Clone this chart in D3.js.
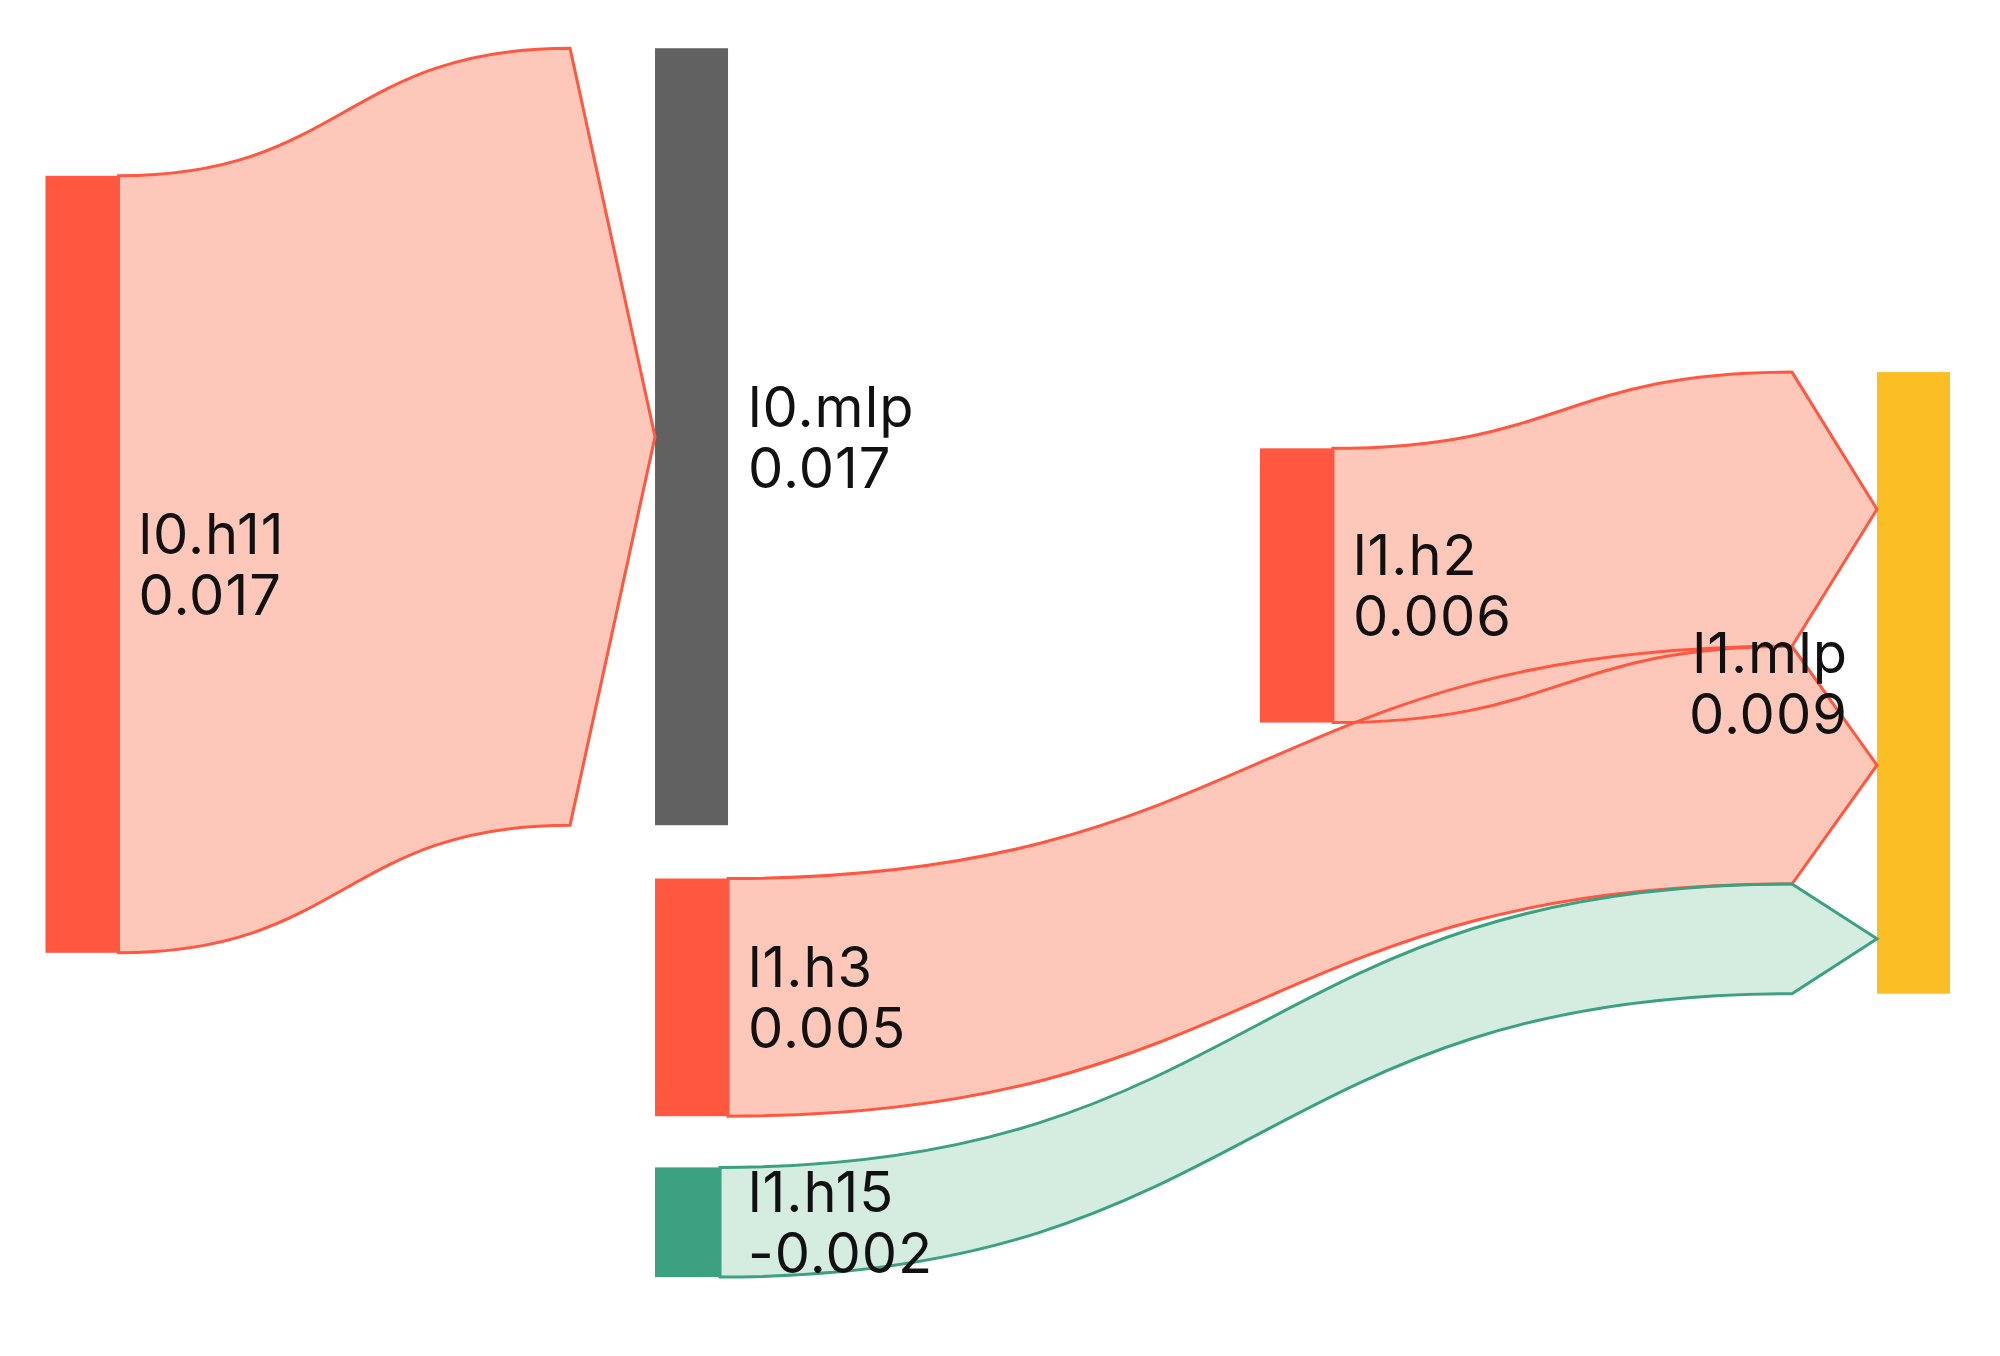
<!DOCTYPE html>
<html>
<head>
<meta charset="utf-8">
<script src="https://cdn.jsdelivr.net/npm/d3@7"></script>
<style>
  html, body { margin: 0; padding: 0; background: #ffffff; }
  svg { display: block; }
</style>
</head>
<body>
<svg id="chart" width="2000" height="1356"></svg>
<script>
// ---- data ----
const nodeNames = ["l0.h11", "l0.mlp", "l1.h3", "l1.h15", "l1.h2", "l1.mlp"];
const nodeKinds = ["pos", "mlp0", "pos", "neg", "pos", "mlp1"];
// fixed arrangement (normalised column / vertical centre), as in the source sankey
const nodeX = [0, 0.3328, 0.3328, 0.3328, 0.6631, 1];
const nodeY = [0.4203, 0.3165, 0.7727, 0.9557, 0.4375, 0.5168];
const linkSource = [0, 4, 2, 3];
const linkTarget = [1, 5, 5, 5];
const linkValue = [0.0170, 0.0060, 0.0052, -0.0024];

// ---- styles ----
const W = 2000, H = 1356;
const nodeWidth = 73;
const arrowLen = 85;
const nodeFill = { pos: "#FF5740", mlp0: "#616161", neg: "#3BA180", mlp1: "#FBBF24" };
const linkFill = { pos: "#FDC8B9", neg: "#D5ECE1" };
const linkStroke = { pos: "#FF5740", neg: "#3BA180" };
const fontFamily = "Inter, 'Noto Sans', sans-serif";
const fontSize = 56;

const svg = d3.select("#chart");
const xPos = d3.scaleLinear().domain([0, 1]).range([45.5, 1877]);
const yPos = d3.scaleLinear().domain([0, 1]).range([47.8, 1276.7]);
const hScale = d3.scaleLinear().domain([0, 0.017]).range([0, 777]);
const fmt = d3.formatLocale({ decimal: ".", thousands: ",", grouping: [3], currency: ["", ""], minus: "-" }).format(".3f");

// nodes
const nodes = nodeNames.map((name, i) => {
  const outs = linkValue.filter((v, j) => linkSource[j] === i);
  const ins = linkValue.filter((v, j) => linkTarget[j] === i);
  const links = ins.length ? ins : outs;
  const absSum = d3.sum(links, v => Math.abs(v));
  const signed = d3.sum(links);
  const h = hScale(absSum);
  const cy = yPos(nodeY[i]);
  const x0 = xPos(nodeX[i]);
  return { i, name, kind: nodeKinds[i], x0, x1: x0 + nodeWidth, y0: cy - h / 2, y1: cy + h / 2, cy, value: signed, outOff: 0, inOff: 0 };
});

// links
const links = linkValue.map((v, j) => {
  const s = nodes[linkSource[j]], t = nodes[linkTarget[j]];
  const w = hScale(Math.abs(v));
  const sy0 = s.y0 + s.outOff; s.outOff += w;
  const ty0 = t.y0 + t.inOff; t.inOff += w;
  return { v, w, s, t, sy0, sy1: sy0 + w, ty0, ty1: ty0 + w, kind: v < 0 ? "neg" : "pos" };
});

function linkPath(d) {
  const x0 = d.s.x1 - (d.v < 0 ? 8 : 0);
  const xt = d.t.x0;
  const x1 = xt - arrowLen;
  const xm = (x0 + x1) / 2;
  const tipY = (d.ty0 + d.ty1) / 2;
  return `M${x0},${d.sy0}C${xm},${d.sy0} ${xm},${d.ty0} ${x1},${d.ty0}` +
         `L${xt},${tipY}L${x1},${d.ty1}` +
         `C${xm},${d.ty1} ${xm},${d.sy1} ${x0},${d.sy1}Z`;
}

// draw nodes
svg.append("g").selectAll("rect").data(nodes).join("rect")
  .attr("x", d => d.x0).attr("y", d => d.y0)
  .attr("width", nodeWidth).attr("height", d => d.y1 - d.y0)
  .attr("fill", d => nodeFill[d.kind]);

// link fills, then strokes
svg.append("g").selectAll("path").data(links).join("path")
  .attr("d", linkPath)
  .attr("fill", d => linkFill[d.kind])
  .attr("stroke", "none");
svg.append("g").selectAll("path").data(links).join("path")
  .attr("d", linkPath)
  .attr("fill", "none")
  .attr("stroke", d => linkStroke[d.kind])
  .attr("stroke-width", 3)
  .attr("stroke-linejoin", "miter");

// labels
const isLast = d => d.x0 > 1800;
const lab = svg.append("g").selectAll("text").data(nodes).join("text")
  .attr("font-family", fontFamily)
  .attr("font-size", fontSize)
  .attr("letter-spacing", 1)
  .attr("fill", "#111111")
  .attr("text-anchor", d => isLast(d) ? "end" : "start");
lab.append("tspan")
  .attr("x", d => isLast(d) ? d.x0 - 29 : d.x1 + 20)
  .attr("y", d => d.cy - 10)
  .text(d => d.name);
lab.append("tspan")
  .attr("x", d => isLast(d) ? d.x0 - 29 : d.x1 + 20)
  .attr("y", d => d.cy + 51)
  .text(d => fmt(d.value));
</script>
</body>
</html>
